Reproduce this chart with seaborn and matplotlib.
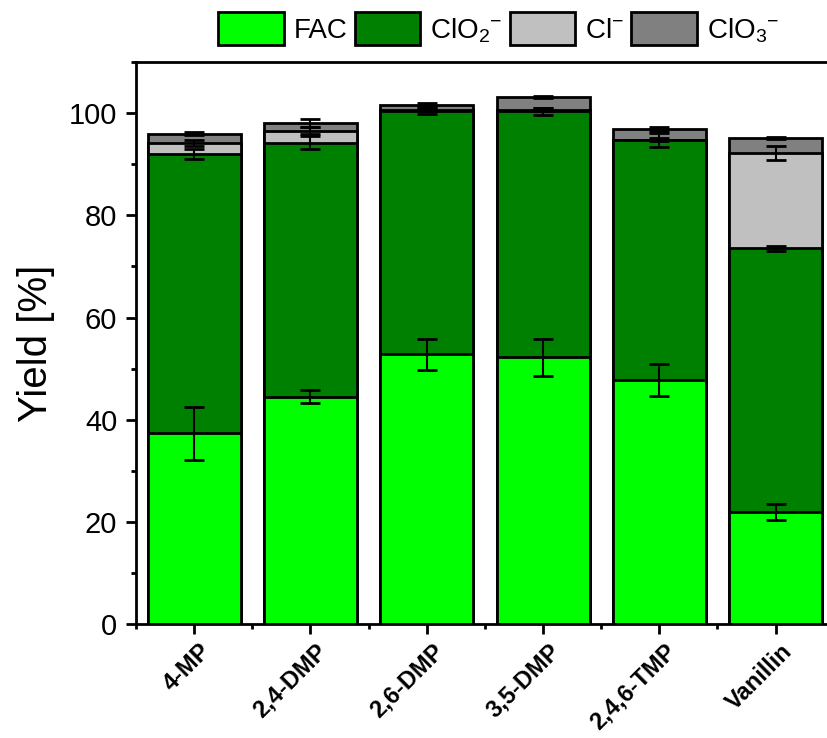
import matplotlib
matplotlib.use("Agg")
import matplotlib.pyplot as plt
import matplotlib.transforms as mtrans
import seaborn as sns
import numpy as np
import pandas as pd
from matplotlib.patches import Patch
from matplotlib.ticker import MultipleLocator

categories = ['4-MP', '2,4-DMP', '2,6-DMP', '3,5-DMP', '2,4,6-TMP', 'Vanillin']
FAC = [37.4, 44.5, 52.8, 52.2, 47.8, 22.0]
FAC_err = [5.2, 1.3, 3.0, 3.7, 3.2, 1.5]
ClO2 = [54.6, 49.7, 47.6, 48.1, 46.9, 51.5]
ClO2_err = [1.0, 1.2, 0.6, 0.7, 1.4, 0.4]
Cl = [2.1, 2.3, 0.2, 0.3, 0.1, 18.7]
Cl_err = [0.6, 0.7, 0.2, 0.3, 0.3, 1.4]
ClO3 = [1.8, 1.5, 1.0, 2.5, 2.1, 2.9]
ClO3_err = [0.3, 0.8, 0.3, 0.2, 0.4, 0.2]

series_names = ['FAC', r'ClO$_{2}$$^{-}$', r'Cl$^{-}$', r'ClO$_{3}$$^{-}$']
colors = ['#00FF00', '#008000', '#C0C0C0', '#808080']

sns.set_style('ticks')
plt.rcParams['font.family'] = ['Liberation Sans', 'DejaVu Sans']
plt.rcParams['mathtext.fontset'] = 'custom'
plt.rcParams['mathtext.rm'] = 'Liberation Sans'
plt.rcParams['mathtext.it'] = 'Liberation Sans'
plt.rcParams['mathtext.default'] = 'regular'
for k in ['text.color', 'axes.labelcolor', 'xtick.color', 'ytick.color', 'axes.edgecolor']:
    plt.rcParams[k] = 'black'

fig = plt.figure(figsize=(8.27, 7.38), dpi=100)
ax = fig.add_axes([0.1645, 0.1538, 0.8437, 0.7625])

vals = [FAC, ClO2, Cl, ClO3]
errs = [FAC_err, ClO2_err, Cl_err, ClO3_err]
cums = np.cumsum(np.array(vals), axis=0)

# draw from top of stack downward so lower segments overlay
for i in range(3, -1, -1):
    df = pd.DataFrame({'cat': categories, 'val': cums[i]})
    sns.barplot(data=df, x='cat', y='val', color=colors[i], edgecolor='black',
                linewidth=2.0, width=0.8, saturation=1, ax=ax, order=categories)

xpos = np.arange(len(categories))
for i in range(4):
    ax.errorbar(xpos, cums[i], yerr=errs[i], fmt='none', ecolor='black',
                elinewidth=1.5, capsize=7.5, capthick=2.0, zorder=5)

ax.set_ylim(0, 110)
ax.set_xlim(-0.5, 5.5)
ax.yaxis.set_major_locator(MultipleLocator(20))
ax.yaxis.set_minor_locator(MultipleLocator(10))
ax.set_xticks(xpos, minor=False)
ax.set_xticks(np.arange(-0.5, 5.6, 1.0), minor=True)
ax.set_xlabel('')
ax.set_ylabel('Yield [%]', fontsize=29, labelpad=10)
ax.tick_params(axis='y', which='major', labelsize=21, length=7.5, width=2, direction='out', pad=6)
ax.tick_params(axis='y', which='minor', length=3.5, width=2, direction='out')
ax.tick_params(axis='x', which='major', length=7.5, width=2, direction='out')
ax.tick_params(axis='x', which='minor', length=3.5, width=2, direction='out')
ax.set_xticklabels(categories, rotation=45, ha='right', va='center', rotation_mode='anchor',
                   fontsize=17, fontweight='bold')
offset = mtrans.ScaledTranslation(13 / 100, -8 / 100, fig.dpi_scale_trans)
for lab in ax.get_xticklabels():
    lab.set_transform(lab.get_transform() + offset)
for s in ax.spines.values():
    s.set_linewidth(2)
    s.set_visible(True)

handles = [Patch(facecolor=c, edgecolor='black', linewidth=2.0) for c in colors]
fig.legend(handles, series_names, loc='upper center', bbox_to_anchor=(0.603, 1.0),
           ncol=4, frameon=False, fontsize=20, handlelength=2.36, handleheight=1.45,
           handletextpad=0.36, columnspacing=0.25, borderaxespad=0.15, borderpad=0.3)

fig.savefig('out.png', dpi=100)
